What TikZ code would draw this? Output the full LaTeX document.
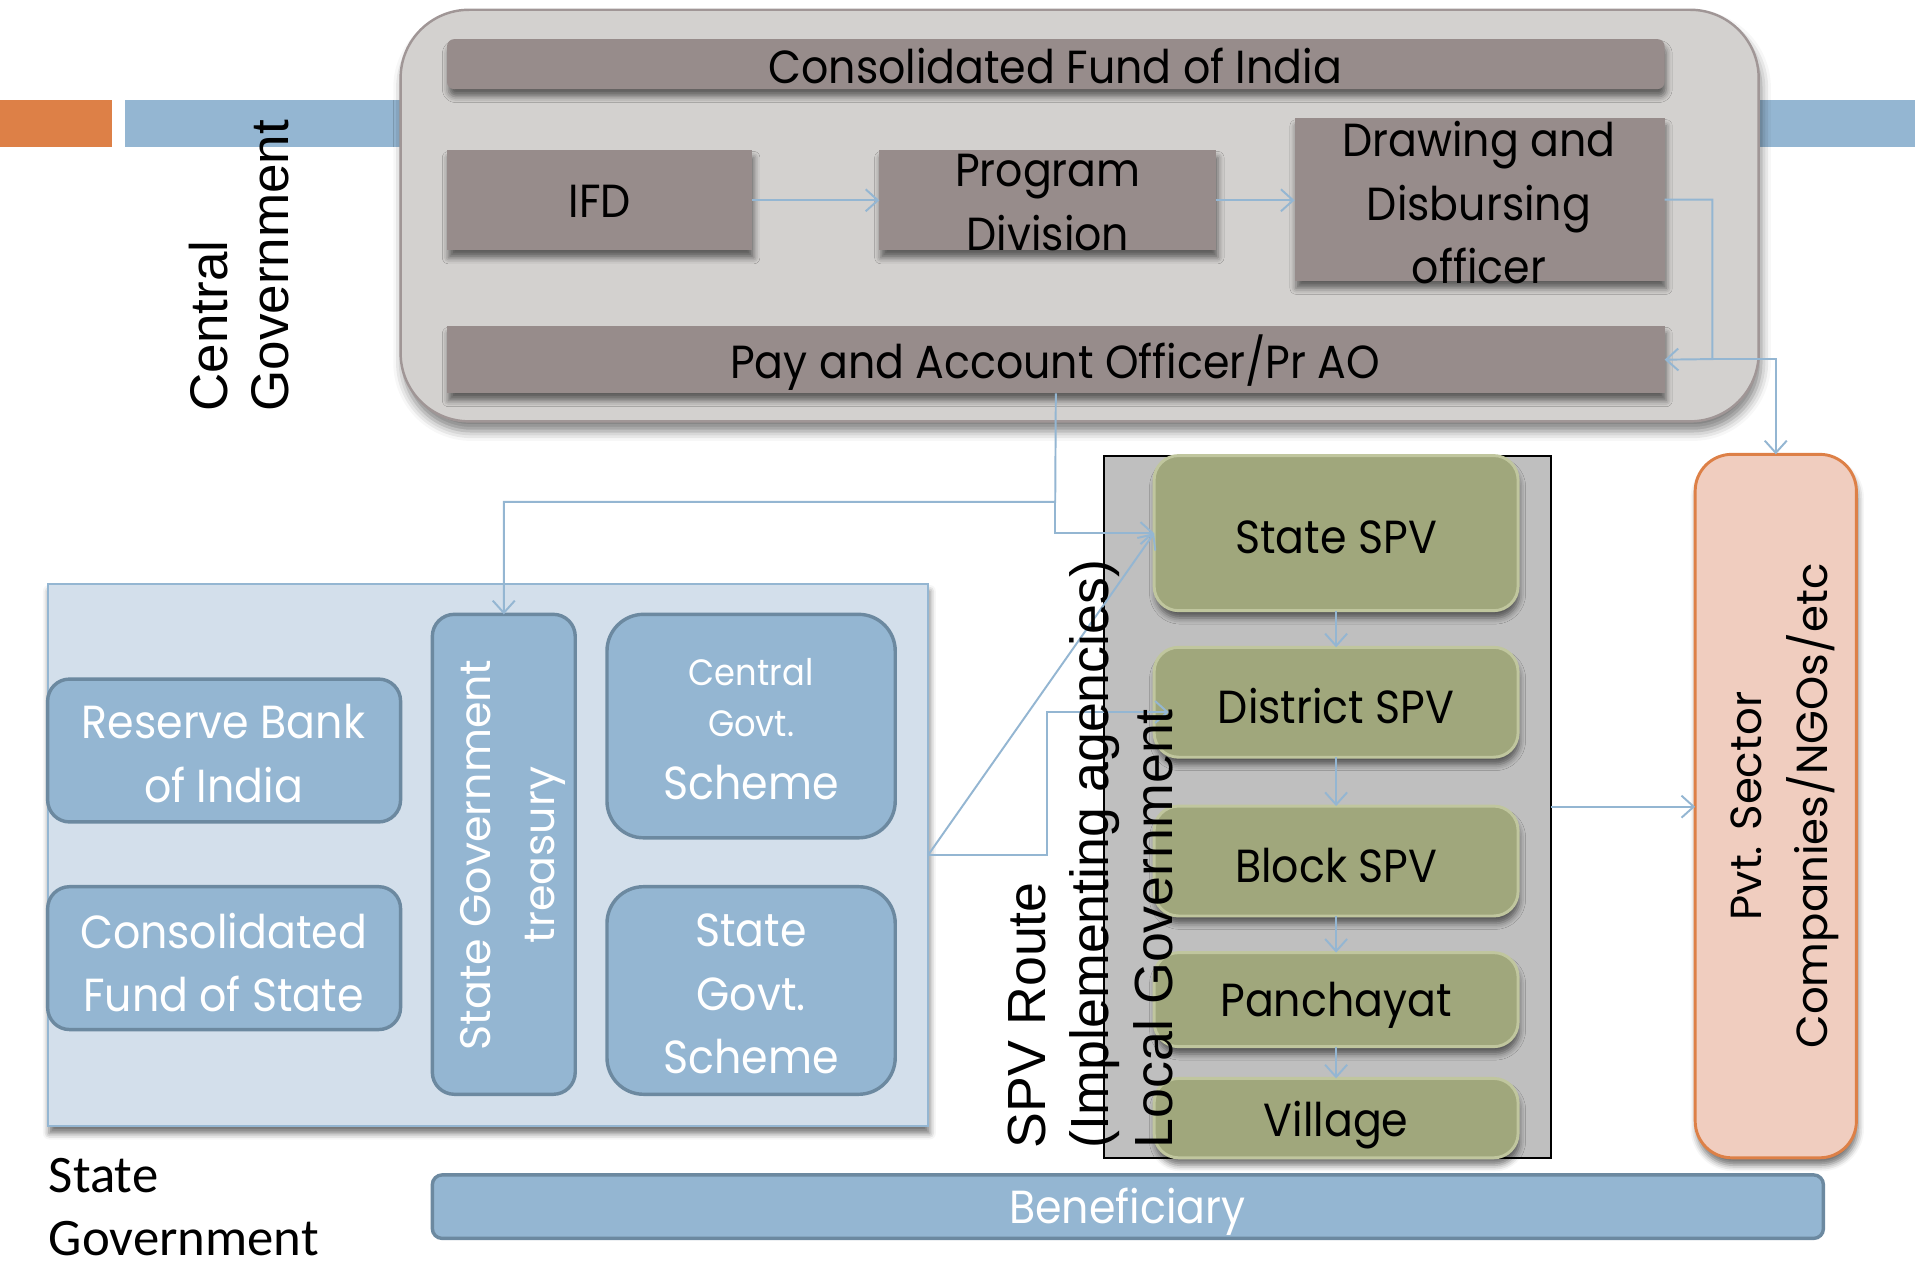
\documentclass[tikz,border=0pt]{standalone}
\usepackage{fontspec}
\usetikzlibrary{arrows.meta,shadows.blur,fit,calc}
\newfontfamily\twf[FakeStretch=0.92]{Poppins}
\newfontfamily\cgf{Poppins}
\newfontfamily\arialf{Liberation Sans}
\newfontfamily\calf{Carlito}
\newcommand{\twtext}{\twf\fontsize{19}{26}\selectfont}
\definecolor{orng}{RGB}{221,128,71}
\definecolor{lblue}{RGB}{148,182,210}
\definecolor{bborder}{RGB}{108,137,160}
\definecolor{taupe}{RGB}{151,140,139}
\definecolor{cgrey}{RGB}{211,209,207}
\definecolor{cgreyb}{RGB}{160,150,150}
\definecolor{sblue}{RGB}{211,223,235}
\definecolor{spvgrey}{RGB}{191,191,191}
\definecolor{olive}{RGB}{160,167,124}
\definecolor{olivel}{RGB}{192,198,158}
\definecolor{peach}{RGB}{240,205,191}
\begin{document}
\begin{tikzpicture}[x=0.5pt,y=-0.5pt,
  bx/.style={inner sep=0pt, outer sep=0pt},
  shad/.style={blur shadow={shadow xshift=0.6pt, shadow yshift=-3pt, shadow opacity=55, shadow blur radius=2.5pt}},
  taupebox/.style={bx, fill=taupe, shad},
  bluebox/.style={bx, fill=lblue, draw=bborder, line width=1.4pt},
  greenbox/.style={bx, fill=olive, draw=olivel, line width=1.2pt, rounded corners=10pt, shad},
  blk/.style={bx, align=center, font=\twtext, text=black},
  wht/.style={bx, align=center, font=\twtext, text=white},
  arr/.style={draw=lblue, line width=0.8pt, -{Straight Barb[length=5pt,width=9pt,line width=0.8pt]}},
]
\useasboundingbox (0,0) rectangle (1568,1034);
% header bars
\fill[lblue] (102,82) rectangle (1568,120);
\fill[orng] (0,82) rectangle (92,120);
% central government block
\node[bx, fit={(328,8)(1440,345)}, fill=cgrey, draw=cgreyb, line width=1pt, rounded corners=28pt,
  blur shadow={shadow xshift=1pt, shadow yshift=-4pt, shadow opacity=50, shadow blur radius=4pt}] (cg) {};
\node[taupebox, fit={(366,32)(1363,73)}, rounded corners=3pt] (cfi) {};
\node[taupebox, fit={(366,123)(616,205)}] (ifd) {};
\node[taupebox, fit={(720,123)(996,205)}] (prog) {};
\node[taupebox, fit={(1060,97)(1363,230)}] (ddo) {};
\node[taupebox, fit={(366,267)(1363,322)}] (pao) {};
\node[blk] (cfit) at (864,54) {Consolidated Fund of India};
\node[blk] (ifdt) at (491,165) {IFD};
\node[blk] (progt) at (858,166) {Program\\Division};
\node[blk] (ddot) at (1211,166) {Drawing and\\Disbursing\\officer};
\node[blk] (paot) at (864,297) {Pay and Account Officer/Pr AO};
% state government block
\node[bx, fit={(39,478)(760,922)}, fill=sblue, draw=lblue, line width=0.8pt, shad] (sg) {};
\node[bluebox, fit={(39,556)(328,673)}, rounded corners=9pt] (rbi) {};
\node[bluebox, fit={(39,726)(328,843)}, rounded corners=9pt] (cfs) {};
\node[bluebox, fit={(354,503)(471,896)}, rounded corners=9pt] (treas) {};
\node[bluebox, fit={(497,503)(733,686)}, rounded corners=15pt] (cgs) {};
\node[bluebox, fit={(497,726)(733,896)}, rounded corners=15pt] (sgs) {};
\node[wht] (rbit) at (183,617) {Reserve Bank\\of India};
\node[wht] (cfst) at (183,788) {Consolidated\\Fund of State};
\node[bx, rotate=90, align=center, font=\cgf\fontsize{17.5}{26.5}\selectfont, text=white] (treast) at (420,700) {State Government\\treasury};
\node[wht] (cgst) at (615,597) {\fontsize{15}{18}\selectfont Central\\[-5pt]\fontsize{15}{21.5}\selectfont Govt.\\\fontsize{19}{23.5}\selectfont Scheme};
\node[wht] (sgst) at (615,814) {State\\Govt.\\Scheme};
% SPV block
\node[bx, fit={(904,373)(1270,948)}, fill=spvgrey, draw=black, line width=0.8pt] (spvc) {};
\node[greenbox, fit={(945,373)(1243,500)}] (sspv) {};
\node[greenbox, fit={(945,530)(1243,620)}] (dspv) {};
\node[greenbox, fit={(945,660)(1243,750)}] (bspv) {};
\node[greenbox, fit={(945,780)(1243,857)}] (panch) {};
\node[greenbox, fit={(945,883)(1243,948)}] (vill) {};
\node[blk] (sspvt) at (1094,440) {State SPV};
\node[blk] (dspvt) at (1094,578) {District SPV};
\node[blk] (bspvt) at (1094,709) {Block SPV};
\node[blk] (pancht) at (1094,823) {Panchayat};
\node[blk] (villt) at (1094,921) {Village};
% private sector
\node[bx, fit={(1388,372)(1520,948)}, fill=peach, draw=orng, line width=1.2pt, rounded corners=15pt, shad] (pvt) {};
\node[bx, rotate=90, align=center, font=\cgf\fontsize{17.8}{27}\selectfont, text=black] (pvtt) at (1461,660) {Pvt. Sector\\Companies/NGOs/etc};
% beneficiary
\node[bluebox, fit={(354,962)(1493,1014)}, rounded corners=4pt] (ben) {};
\node[wht] (bent) at (923,992) {Beneficiary};
% connectors
\coordinate (j1) at (1402,294);
\coordinate (j2) at (864,411);
\coordinate (j4) at (857,583);
\coordinate (dtip) at (957,583);
\draw[arr] (ifd.east) -- (prog.west);
\draw[arr] (prog.east) -- (prog.east -| ddo.west);
\draw[arr] (ddo.east) -| (j1) -- (pao.east);
\draw[arr] (j1) -| (pvt.north);
\draw[arr] (pao.south) -- (j2) -| (treas.north);
\draw[arr] (j2) |- (sspv.west);
\draw[arr] (sg.east) -- (sspv.west);
\draw[arr] (sg.east) -| (j4) -- (dtip);
\draw[arr] (sspv.south) -- (dspv.north);
\draw[arr] (dspv.south) -- (bspv.north);
\draw[arr] (bspv.south) -- (panch.north);
\draw[arr] (panch.south) -- (vill.north);
\draw[arr] (spvc.east) -- (spvc.east -| pvt.west);
% labels
\node[bx, rotate=90, anchor=north west, align=left, font=\arialf\fontsize{21.7}{25}\selectfont] (cglab) at (155,337) {Central\\Government};
\node[bx, rotate=90, anchor=north west, align=left, font=\arialf\fontsize{22}{26}\selectfont] (spvlab) at (825,940) {SPV Route\\(Implementing agencies)\\Local Government};
\node[bx, anchor=north west, align=left, font=\calf\fontsize{21.6}{26}\selectfont] (sglab) at (40,948) {State\\Government};
\end{tikzpicture}
\end{document}
